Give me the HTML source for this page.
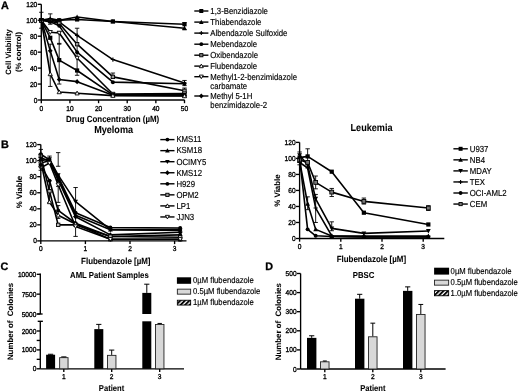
<!DOCTYPE html>
<html><head><meta charset="utf-8"><style>
html,body{margin:0;padding:0;background:#fff;width:520px;height:392px;overflow:hidden}
svg{display:block;will-change:transform}
text{text-rendering:geometricPrecision;font-family:"Liberation Sans",sans-serif;fill:#000;stroke:#000;stroke-width:0.14px}
text[font-weight=bold]{stroke-width:0.06px}
text.t{stroke-width:0.3px}
text.p{stroke-width:0.3px}
</style></head><body>
<svg width="520" height="392" viewBox="0 0 520 392">
<defs><pattern id="hatch" patternUnits="userSpaceOnUse" width="3.2" height="3.2" patternTransform="rotate(45)"><rect width="3.2" height="3.2" fill="#fff"/><rect width="1.9" height="3.2" fill="#000"/></pattern></defs>
<rect width="520" height="392" fill="#fff"/>
<g>
<text x="0" y="0" font-size="10.8" font-weight="bold" transform="translate(0.9 8.6) scale(1 1.0)" class="p">A</text>
<text x="0" y="0" font-size="10.8" font-weight="bold" transform="translate(1.1 148.3) scale(1 1.0)" class="p">B</text>
<text x="0" y="0" font-size="10.8" font-weight="bold" transform="translate(0.5 270.2) scale(1 1.0)" class="p">C</text>
<text x="0" y="0" font-size="10.8" font-weight="bold" transform="translate(265.2 269.5) scale(1 1.0)" class="p">D</text>
<line x1="41.3" y1="28.22" x2="41.3" y2="12.28" stroke="#000" stroke-width="0.9"/>
<line x1="39.1" y1="28.22" x2="43.5" y2="28.22" stroke="#000" stroke-width="0.9"/>
<line x1="39.1" y1="12.28" x2="43.5" y2="12.28" stroke="#000" stroke-width="0.9"/>
<line x1="50.25" y1="24.24" x2="50.25" y2="13.87" stroke="#000" stroke-width="0.9"/>
<line x1="48.05" y1="24.24" x2="52.45" y2="24.24" stroke="#000" stroke-width="0.9"/>
<line x1="48.05" y1="13.87" x2="52.45" y2="13.87" stroke="#000" stroke-width="0.9"/>
<line x1="50.25" y1="86.44" x2="50.25" y2="44.18" stroke="#000" stroke-width="0.9"/>
<line x1="48.05" y1="86.44" x2="52.45" y2="86.44" stroke="#000" stroke-width="0.9"/>
<line x1="48.05" y1="44.18" x2="52.45" y2="44.18" stroke="#000" stroke-width="0.9"/>
<line x1="59.2" y1="84.05" x2="59.2" y2="43.38" stroke="#000" stroke-width="0.9"/>
<line x1="57" y1="84.05" x2="61.4" y2="84.05" stroke="#000" stroke-width="0.9"/>
<line x1="57" y1="43.38" x2="61.4" y2="43.38" stroke="#000" stroke-width="0.9"/>
<line x1="59.2" y1="44.18" x2="59.2" y2="31.42" stroke="#000" stroke-width="0.9"/>
<line x1="57" y1="44.18" x2="61.4" y2="44.18" stroke="#000" stroke-width="0.9"/>
<line x1="57" y1="31.42" x2="61.4" y2="31.42" stroke="#000" stroke-width="0.9"/>
<line x1="77.1" y1="75.28" x2="77.1" y2="28.22" stroke="#000" stroke-width="0.9"/>
<line x1="74.9" y1="75.28" x2="79.3" y2="75.28" stroke="#000" stroke-width="0.9"/>
<line x1="74.9" y1="28.22" x2="79.3" y2="28.22" stroke="#000" stroke-width="0.9"/>
<line x1="112.9" y1="77.91" x2="112.9" y2="73.04" stroke="#000" stroke-width="0.9"/>
<line x1="110.7" y1="77.91" x2="115.1" y2="77.91" stroke="#000" stroke-width="0.9"/>
<line x1="110.7" y1="73.04" x2="115.1" y2="73.04" stroke="#000" stroke-width="0.9"/>
<line x1="184.5" y1="85.64" x2="184.5" y2="80.46" stroke="#000" stroke-width="0.9"/>
<line x1="182.3" y1="85.64" x2="186.7" y2="85.64" stroke="#000" stroke-width="0.9"/>
<line x1="182.3" y1="80.46" x2="186.7" y2="80.46" stroke="#000" stroke-width="0.9"/>
<line x1="184.5" y1="29.82" x2="184.5" y2="22.64" stroke="#000" stroke-width="0.9"/>
<line x1="182.3" y1="29.82" x2="186.7" y2="29.82" stroke="#000" stroke-width="0.9"/>
<line x1="182.3" y1="22.64" x2="186.7" y2="22.64" stroke="#000" stroke-width="0.9"/>
<line x1="184.5" y1="92.82" x2="184.5" y2="88.04" stroke="#000" stroke-width="0.9"/>
<line x1="182.3" y1="92.82" x2="186.7" y2="92.82" stroke="#000" stroke-width="0.9"/>
<line x1="182.3" y1="88.04" x2="186.7" y2="88.04" stroke="#000" stroke-width="0.9"/>
<polyline points="41.3,20.25 50.25,20.25 59.2,20.25 77.1,19.45 112.9,21.45 184.5,24.24" fill="none" stroke="#000" stroke-width="1.6" stroke-linejoin="round"/>
<polyline points="41.3,20.25 50.25,18.66 59.2,20.25 77.1,17.06 112.9,21.45 184.5,28.22" fill="none" stroke="#000" stroke-width="1.6" stroke-linejoin="round"/>
<polyline points="41.3,20.25 50.25,20.25 59.2,21.84 77.1,35.4 112.9,59.57 184.5,83.01" fill="none" stroke="#000" stroke-width="1.6" stroke-linejoin="round"/>
<polyline points="41.3,20.25 50.25,21.05 59.2,23.44 77.1,44.18 112.9,76.87 184.5,90.83" fill="none" stroke="#000" stroke-width="1.6" stroke-linejoin="round"/>
<polyline points="41.3,20.25 50.25,21.84 59.2,25.83 77.1,52.15 112.9,82.14 184.5,83.81" fill="none" stroke="#000" stroke-width="1.6" stroke-linejoin="round"/>
<polyline points="41.3,20.25 50.25,32.21 59.2,33.01 77.1,58.05 112.9,94.02 184.5,93.62" fill="none" stroke="#000" stroke-width="1.6" stroke-linejoin="round"/>
<polyline points="41.3,20.25 50.25,37.8 59.2,60.12 77.1,70.49 112.9,94.82 184.5,94.82" fill="none" stroke="#000" stroke-width="1.6" stroke-linejoin="round"/>
<polyline points="41.3,20.25 50.25,50.87 59.2,79.5 77.1,81.66 112.9,95.22 184.5,95.61" fill="none" stroke="#000" stroke-width="1.6" stroke-linejoin="round"/>
<polyline points="41.3,20.25 50.25,74 59.2,92.03 77.1,93.22 112.9,95.61 184.5,96.01" fill="none" stroke="#000" stroke-width="1.6" stroke-linejoin="round"/>
<rect x="39.2" y="18.15" width="4.2" height="4.2" fill="#000"/>
<rect x="48.15" y="18.15" width="4.2" height="4.2" fill="#000"/>
<rect x="57.1" y="18.15" width="4.2" height="4.2" fill="#000"/>
<rect x="75" y="17.35" width="4.2" height="4.2" fill="#000"/>
<rect x="110.8" y="19.35" width="4.2" height="4.2" fill="#000"/>
<rect x="182.4" y="22.14" width="4.2" height="4.2" fill="#000"/>
<path d="M41.3 17.75L43.7 22.15L38.9 22.15Z" fill="#000"/>
<path d="M50.25 16.16L52.65 20.56L47.85 20.56Z" fill="#000"/>
<path d="M59.2 17.75L61.6 22.15L56.8 22.15Z" fill="#000"/>
<path d="M77.1 14.56L79.5 18.96L74.7 18.96Z" fill="#000"/>
<path d="M112.9 18.95L115.3 23.35L110.5 23.35Z" fill="#000"/>
<path d="M184.5 25.72L186.9 30.12L182.1 30.12Z" fill="#000"/>
<path d="M39.2 20.25L43.4 20.25M41.3 18.15L41.3 22.35" stroke="#000" stroke-width="1.1"/>
<path d="M48.15 20.25L52.35 20.25M50.25 18.15L50.25 22.35" stroke="#000" stroke-width="1.1"/>
<path d="M57.1 21.84L61.3 21.84M59.2 19.74L59.2 23.95" stroke="#000" stroke-width="1.1"/>
<path d="M75 35.4L79.2 35.4M77.1 33.3L77.1 37.5" stroke="#000" stroke-width="1.1"/>
<path d="M110.8 59.57L115 59.57M112.9 57.47L112.9 61.67" stroke="#000" stroke-width="1.1"/>
<path d="M182.4 83.01L186.6 83.01M184.5 80.91L184.5 85.11" stroke="#000" stroke-width="1.1"/>
<rect x="39.6" y="18.55" width="3.4" height="3.4" fill="#999" stroke="#000" stroke-width="0.9"/>
<rect x="48.55" y="19.35" width="3.4" height="3.4" fill="#999" stroke="#000" stroke-width="0.9"/>
<rect x="57.5" y="21.74" width="3.4" height="3.4" fill="#999" stroke="#000" stroke-width="0.9"/>
<rect x="75.4" y="42.48" width="3.4" height="3.4" fill="#999" stroke="#000" stroke-width="0.9"/>
<rect x="111.2" y="75.17" width="3.4" height="3.4" fill="#999" stroke="#000" stroke-width="0.9"/>
<rect x="182.8" y="89.13" width="3.4" height="3.4" fill="#999" stroke="#000" stroke-width="0.9"/>
<circle cx="41.3" cy="20.25" r="1.99" fill="#000"/>
<circle cx="50.25" cy="21.84" r="1.99" fill="#000"/>
<circle cx="59.2" cy="25.83" r="1.99" fill="#000"/>
<circle cx="77.1" cy="52.15" r="1.99" fill="#000"/>
<circle cx="112.9" cy="82.14" r="1.99" fill="#000"/>
<circle cx="184.5" cy="83.81" r="1.99" fill="#000"/>
<path d="M41.3 22.35L43.4 18.55L39.2 18.55Z" fill="#fff" stroke="#000" stroke-width="0.9"/>
<path d="M50.25 34.31L52.35 30.51L48.15 30.51Z" fill="#fff" stroke="#000" stroke-width="0.9"/>
<path d="M59.2 35.11L61.3 31.31L57.1 31.31Z" fill="#fff" stroke="#000" stroke-width="0.9"/>
<path d="M77.1 60.15L79.2 56.35L75 56.35Z" fill="#fff" stroke="#000" stroke-width="0.9"/>
<path d="M112.9 96.12L115 92.32L110.8 92.32Z" fill="#fff" stroke="#000" stroke-width="0.9"/>
<path d="M184.5 95.72L186.6 91.92L182.4 91.92Z" fill="#fff" stroke="#000" stroke-width="0.9"/>
<rect x="39.2" y="18.15" width="4.2" height="4.2" fill="#000"/>
<rect x="48.15" y="35.7" width="4.2" height="4.2" fill="#000"/>
<rect x="57.1" y="58.02" width="4.2" height="4.2" fill="#000"/>
<rect x="75" y="68.39" width="4.2" height="4.2" fill="#000"/>
<rect x="110.8" y="92.72" width="4.2" height="4.2" fill="#000"/>
<rect x="182.4" y="92.72" width="4.2" height="4.2" fill="#000"/>
<path d="M41.3 17.65L43.7 20.25L41.3 22.85L38.9 20.25Z" fill="#000"/>
<path d="M50.25 48.27L52.65 50.87L50.25 53.47L47.85 50.87Z" fill="#000"/>
<path d="M59.2 76.9L61.6 79.5L59.2 82.1L56.8 79.5Z" fill="#000"/>
<path d="M77.1 79.06L79.5 81.66L77.1 84.26L74.7 81.66Z" fill="#000"/>
<path d="M112.9 92.62L115.3 95.22L112.9 97.81L110.5 95.22Z" fill="#000"/>
<path d="M184.5 93.01L186.9 95.61L184.5 98.21L182.1 95.61Z" fill="#000"/>
<path d="M41.3 18.15L43.4 21.95L39.2 21.95Z" fill="#fff" stroke="#000" stroke-width="0.9"/>
<path d="M50.25 71.9L52.35 75.7L48.15 75.7Z" fill="#fff" stroke="#000" stroke-width="0.9"/>
<path d="M59.2 89.93L61.3 93.72L57.1 93.72Z" fill="#fff" stroke="#000" stroke-width="0.9"/>
<path d="M77.1 91.12L79.2 94.92L75 94.92Z" fill="#fff" stroke="#000" stroke-width="0.9"/>
<path d="M112.9 93.51L115 97.31L110.8 97.31Z" fill="#fff" stroke="#000" stroke-width="0.9"/>
<path d="M184.5 93.91L186.6 97.71L182.4 97.71Z" fill="#fff" stroke="#000" stroke-width="0.9"/>
<line x1="41.3" y1="4.3" x2="41.3" y2="100" stroke="#000" stroke-width="1.35"/>
<line x1="37.7" y1="100" x2="41.3" y2="100" stroke="#000" stroke-width="1.35"/>
<text x="0" y="0" font-size="6.6" text-anchor="end" transform="translate(37.3 102.5) scale(1 1.08)" class="t">0</text>
<line x1="37.7" y1="84.05" x2="41.3" y2="84.05" stroke="#000" stroke-width="1.35"/>
<text x="0" y="0" font-size="6.6" text-anchor="end" transform="translate(37.3 86.55) scale(1 1.08)" class="t">20</text>
<line x1="37.7" y1="68.1" x2="41.3" y2="68.1" stroke="#000" stroke-width="1.35"/>
<text x="0" y="0" font-size="6.6" text-anchor="end" transform="translate(37.3 70.6) scale(1 1.08)" class="t">40</text>
<line x1="37.7" y1="52.15" x2="41.3" y2="52.15" stroke="#000" stroke-width="1.35"/>
<text x="0" y="0" font-size="6.6" text-anchor="end" transform="translate(37.3 54.65) scale(1 1.08)" class="t">60</text>
<line x1="37.7" y1="36.2" x2="41.3" y2="36.2" stroke="#000" stroke-width="1.35"/>
<text x="0" y="0" font-size="6.6" text-anchor="end" transform="translate(37.3 38.7) scale(1 1.08)" class="t">80</text>
<line x1="37.7" y1="20.25" x2="41.3" y2="20.25" stroke="#000" stroke-width="1.35"/>
<text x="0" y="0" font-size="6.6" text-anchor="end" transform="translate(37.3 22.75) scale(1 1.08)" class="t">100</text>
<line x1="37.7" y1="4.3" x2="41.3" y2="4.3" stroke="#000" stroke-width="1.35"/>
<text x="0" y="0" font-size="6.6" text-anchor="end" transform="translate(37.3 6.8) scale(1 1.08)" class="t">120</text>
<line x1="41.3" y1="100" x2="184.6" y2="100" stroke="#000" stroke-width="1.35"/>
<line x1="41.3" y1="100" x2="41.3" y2="103.2" stroke="#000" stroke-width="1.35"/>
<text x="0" y="0" font-size="6.6" text-anchor="middle" transform="translate(41.3 110.6) scale(1 1.08)" class="t">0</text>
<line x1="69.94" y1="100" x2="69.94" y2="103.2" stroke="#000" stroke-width="1.35"/>
<text x="0" y="0" font-size="6.6" text-anchor="middle" transform="translate(69.94 110.6) scale(1 1.08)" class="t">10</text>
<line x1="98.58" y1="100" x2="98.58" y2="103.2" stroke="#000" stroke-width="1.35"/>
<text x="0" y="0" font-size="6.6" text-anchor="middle" transform="translate(98.58 110.6) scale(1 1.08)" class="t">20</text>
<line x1="127.22" y1="100" x2="127.22" y2="103.2" stroke="#000" stroke-width="1.35"/>
<text x="0" y="0" font-size="6.6" text-anchor="middle" transform="translate(127.22 110.6) scale(1 1.08)" class="t">30</text>
<line x1="155.86" y1="100" x2="155.86" y2="103.2" stroke="#000" stroke-width="1.35"/>
<text x="0" y="0" font-size="6.6" text-anchor="middle" transform="translate(155.86 110.6) scale(1 1.08)" class="t">40</text>
<line x1="184.5" y1="100" x2="184.5" y2="103.2" stroke="#000" stroke-width="1.35"/>
<text x="0" y="0" font-size="6.6" text-anchor="middle" transform="translate(184.5 110.6) scale(1 1.08)" class="t">50</text>
<text x="0" y="0" font-size="7.95" font-weight="bold" text-anchor="middle" transform="translate(112.6 122.2) scale(1 1.12)">Drug Concentration (&#181;M)</text>
<text x="0" y="0" font-size="7.7" font-weight="bold" text-anchor="middle" transform="translate(11 52) rotate(-90) scale(1 1)">Cell Viability</text>
<text x="0" y="0" font-size="7.7" font-weight="bold" text-anchor="middle" transform="translate(20.5 52) rotate(-90) scale(1 1)">(% control)</text>
<line x1="194.3" y1="11" x2="208.4" y2="11" stroke="#000" stroke-width="1.4"/>
<rect x="199.3" y="9" width="4" height="4" fill="#000"/>
<text x="0" y="0" font-size="7.8" transform="translate(210.3 13.8) scale(1 1.12)">1,3-Benzidiazole</text>
<line x1="194.3" y1="22.1" x2="208.4" y2="22.1" stroke="#000" stroke-width="1.4"/>
<path d="M201.3 19.7L203.6 23.9L199 23.9Z" fill="#000"/>
<text x="0" y="0" font-size="7.8" transform="translate(210.3 24.9) scale(1 1.12)">Thiabendazole</text>
<line x1="194.3" y1="33.1" x2="208.4" y2="33.1" stroke="#000" stroke-width="1.4"/>
<path d="M199.3 33.1L203.3 33.1M201.3 31.1L201.3 35.1" stroke="#000" stroke-width="1.1"/>
<text x="0" y="0" font-size="7.8" transform="translate(210.3 35.9) scale(1 1.12)">Albendazole Sulfoxide</text>
<line x1="194.3" y1="44.2" x2="208.4" y2="44.2" stroke="#000" stroke-width="1.4"/>
<circle cx="201.3" cy="44.2" r="1.9" fill="#000"/>
<text x="0" y="0" font-size="7.8" transform="translate(210.3 47) scale(1 1.12)">Mebendazole</text>
<line x1="194.3" y1="55.2" x2="208.4" y2="55.2" stroke="#000" stroke-width="1.4"/>
<rect x="199.7" y="53.6" width="3.2" height="3.2" fill="#777" stroke="#000" stroke-width="0.9"/>
<text x="0" y="0" font-size="7.8" transform="translate(210.3 58) scale(1 1.12)">Oxibendazole</text>
<line x1="194.3" y1="66.1" x2="208.4" y2="66.1" stroke="#000" stroke-width="1.4"/>
<path d="M201.3 64.1L203.3 67.7L199.3 67.7Z" fill="#fff" stroke="#000" stroke-width="0.9"/>
<text x="0" y="0" font-size="7.8" transform="translate(210.3 68.9) scale(1 1.12)">Flubendazole</text>
<line x1="194.3" y1="76.7" x2="208.4" y2="76.7" stroke="#000" stroke-width="1.4"/>
<path d="M201.3 78.7L203.3 75.1L199.3 75.1Z" fill="#fff" stroke="#000" stroke-width="0.9"/>
<text x="0" y="0" font-size="7.8" transform="translate(210.3 79.5) scale(1 1.12)">Methyl1-2-benzimidazole</text>
<line x1="194.3" y1="96" x2="208.4" y2="96" stroke="#000" stroke-width="1.4"/>
<path d="M201.3 93.5L203.6 96L201.3 98.5L199 96Z" fill="#000"/>
<text x="0" y="0" font-size="7.8" transform="translate(210.3 98.8) scale(1 1.12)">Methyl 5-1H</text>
<text x="0" y="0" font-size="7.8" transform="translate(210.3 88.6) scale(1 1.12)">carbamate</text>
<text x="0" y="0" font-size="7.8" transform="translate(210.3 108.3) scale(1 1.12)">benzimidazole-2</text>
<text x="0" y="0" font-size="9.1" font-weight="bold" text-anchor="middle" transform="translate(113.6 132.6) scale(1 1.12)">Myeloma</text>
<line x1="40.8" y1="170.28" x2="40.8" y2="149.42" stroke="#000" stroke-width="0.9"/>
<line x1="38.6" y1="170.28" x2="43" y2="170.28" stroke="#000" stroke-width="0.9"/>
<line x1="38.6" y1="149.42" x2="43" y2="149.42" stroke="#000" stroke-width="0.9"/>
<line x1="40.8" y1="167.07" x2="40.8" y2="154.23" stroke="#000" stroke-width="0.9"/>
<line x1="38.6" y1="167.07" x2="43" y2="167.07" stroke="#000" stroke-width="0.9"/>
<line x1="38.6" y1="154.23" x2="43" y2="154.23" stroke="#000" stroke-width="0.9"/>
<line x1="49.5" y1="163.06" x2="49.5" y2="156.08" stroke="#000" stroke-width="0.9"/>
<line x1="47.3" y1="163.06" x2="51.7" y2="163.06" stroke="#000" stroke-width="0.9"/>
<line x1="47.3" y1="156.08" x2="51.7" y2="156.08" stroke="#000" stroke-width="0.9"/>
<line x1="58.19" y1="166.27" x2="58.19" y2="152.62" stroke="#000" stroke-width="0.9"/>
<line x1="55.99" y1="166.27" x2="60.39" y2="166.27" stroke="#000" stroke-width="0.9"/>
<line x1="55.99" y1="152.62" x2="60.39" y2="152.62" stroke="#000" stroke-width="0.9"/>
<line x1="75.59" y1="236.41" x2="75.59" y2="187.53" stroke="#000" stroke-width="0.9"/>
<line x1="73.39" y1="236.41" x2="77.79" y2="236.41" stroke="#000" stroke-width="0.9"/>
<line x1="73.39" y1="187.53" x2="77.79" y2="187.53" stroke="#000" stroke-width="0.9"/>
<line x1="49.5" y1="202.38" x2="49.5" y2="180.71" stroke="#000" stroke-width="0.9"/>
<line x1="47.3" y1="202.38" x2="51.7" y2="202.38" stroke="#000" stroke-width="0.9"/>
<line x1="47.3" y1="180.71" x2="51.7" y2="180.71" stroke="#000" stroke-width="0.9"/>
<line x1="58.19" y1="202.38" x2="58.19" y2="186.33" stroke="#000" stroke-width="0.9"/>
<line x1="55.99" y1="202.38" x2="60.39" y2="202.38" stroke="#000" stroke-width="0.9"/>
<line x1="55.99" y1="186.33" x2="60.39" y2="186.33" stroke="#000" stroke-width="0.9"/>
<line x1="58.19" y1="218.43" x2="58.19" y2="205.59" stroke="#000" stroke-width="0.9"/>
<line x1="55.99" y1="218.43" x2="60.39" y2="218.43" stroke="#000" stroke-width="0.9"/>
<line x1="55.99" y1="205.59" x2="60.39" y2="205.59" stroke="#000" stroke-width="0.9"/>
<polyline points="40.8,154.23 49.5,159.85 58.19,176.7 75.59,212.81 110.38,227.5 180.18,228.06" fill="none" stroke="#000" stroke-width="1.6" stroke-linejoin="round"/>
<polyline points="40.8,163.06 49.5,160.65 58.19,178.31 75.59,215.22 110.38,229.67 180.18,229.67" fill="none" stroke="#000" stroke-width="1.6" stroke-linejoin="round"/>
<polyline points="40.8,160.65 49.5,159.05 58.19,175.1 75.59,201.58 110.38,229.67 180.18,230.47" fill="none" stroke="#000" stroke-width="1.6" stroke-linejoin="round"/>
<polyline points="40.8,157.44 49.5,161.45 58.19,179.91 75.59,216.83 110.38,234.88 180.18,232.31" fill="none" stroke="#000" stroke-width="1.6" stroke-linejoin="round"/>
<polyline points="40.8,165.47 49.5,180.71 58.19,210.41 75.59,223.25 110.38,236.57 180.18,234.88" fill="none" stroke="#000" stroke-width="1.6" stroke-linejoin="round"/>
<polyline points="40.8,155.84 49.5,191.15 58.19,224.85 75.59,224.85 110.38,236.57 180.18,237.21" fill="none" stroke="#000" stroke-width="1.6" stroke-linejoin="round"/>
<polyline points="40.8,161.45 49.5,201.98 58.19,215.22 75.59,224.05 110.38,239.21 180.18,239.3" fill="none" stroke="#000" stroke-width="1.6" stroke-linejoin="round"/>
<polyline points="40.8,167.87 49.5,163.06 58.19,184.73 75.59,226.46 110.38,239.21 180.18,239.3" fill="none" stroke="#000" stroke-width="1.6" stroke-linejoin="round"/>
<circle cx="40.8" cy="154.23" r="1.99" fill="#000"/>
<circle cx="49.5" cy="159.85" r="1.99" fill="#000"/>
<circle cx="58.19" cy="176.7" r="1.99" fill="#000"/>
<circle cx="75.59" cy="212.81" r="1.99" fill="#000"/>
<circle cx="110.38" cy="227.5" r="1.99" fill="#000"/>
<circle cx="180.18" cy="228.06" r="1.99" fill="#000"/>
<path d="M40.8 160.56L43.2 164.96L38.4 164.96Z" fill="#000"/>
<path d="M49.5 158.15L51.9 162.55L47.1 162.55Z" fill="#000"/>
<path d="M58.19 175.81L60.59 180.21L55.79 180.21Z" fill="#000"/>
<path d="M75.59 212.72L77.99 217.12L73.19 217.12Z" fill="#000"/>
<path d="M110.38 227.17L112.78 231.57L107.98 231.57Z" fill="#000"/>
<path d="M180.18 227.17L182.58 231.57L177.78 231.57Z" fill="#000"/>
<path d="M40.8 163.15L43.2 158.75L38.4 158.75Z" fill="#000"/>
<path d="M49.5 161.55L51.9 157.15L47.1 157.15Z" fill="#000"/>
<path d="M58.19 177.6L60.59 173.2L55.79 173.2Z" fill="#000"/>
<path d="M75.59 204.08L77.99 199.68L73.19 199.68Z" fill="#000"/>
<path d="M110.38 232.17L112.78 227.77L107.98 227.77Z" fill="#000"/>
<path d="M180.18 232.97L182.58 228.57L177.78 228.57Z" fill="#000"/>
<path d="M40.8 154.84L43.2 157.44L40.8 160.04L38.4 157.44Z" fill="#000"/>
<path d="M49.5 158.85L51.9 161.45L49.5 164.05L47.1 161.45Z" fill="#000"/>
<path d="M58.19 177.31L60.59 179.91L58.19 182.51L55.79 179.91Z" fill="#000"/>
<path d="M75.59 214.23L77.99 216.83L75.59 219.43L73.19 216.83Z" fill="#000"/>
<path d="M110.38 232.28L112.78 234.88L110.38 237.48L107.98 234.88Z" fill="#000"/>
<path d="M180.18 229.71L182.58 232.31L180.18 234.91L177.78 232.31Z" fill="#000"/>
<circle cx="40.8" cy="165.47" r="1.99" fill="#000"/>
<circle cx="49.5" cy="180.71" r="1.99" fill="#000"/>
<circle cx="58.19" cy="210.41" r="1.99" fill="#000"/>
<circle cx="75.59" cy="223.25" r="1.99" fill="#000"/>
<circle cx="110.38" cy="236.57" r="1.99" fill="#000"/>
<circle cx="180.18" cy="234.88" r="1.99" fill="#000"/>
<rect x="39.1" y="154.14" width="3.4" height="3.4" fill="#bbb" stroke="#000" stroke-width="0.9"/>
<rect x="47.8" y="189.45" width="3.4" height="3.4" fill="#bbb" stroke="#000" stroke-width="0.9"/>
<rect x="56.49" y="223.15" width="3.4" height="3.4" fill="#bbb" stroke="#000" stroke-width="0.9"/>
<rect x="73.89" y="223.15" width="3.4" height="3.4" fill="#bbb" stroke="#000" stroke-width="0.9"/>
<rect x="108.68" y="234.87" width="3.4" height="3.4" fill="#bbb" stroke="#000" stroke-width="0.9"/>
<rect x="178.48" y="235.51" width="3.4" height="3.4" fill="#bbb" stroke="#000" stroke-width="0.9"/>
<path d="M40.8 159.35L42.9 163.15L38.7 163.15Z" fill="#fff" stroke="#000" stroke-width="0.9"/>
<path d="M49.5 199.88L51.6 203.68L47.4 203.68Z" fill="#fff" stroke="#000" stroke-width="0.9"/>
<path d="M58.19 213.12L60.29 216.92L56.09 216.92Z" fill="#fff" stroke="#000" stroke-width="0.9"/>
<path d="M75.59 221.95L77.69 225.75L73.49 225.75Z" fill="#fff" stroke="#000" stroke-width="0.9"/>
<path d="M110.38 237.11L112.48 240.91L108.28 240.91Z" fill="#fff" stroke="#000" stroke-width="0.9"/>
<path d="M180.18 237.2L182.28 241L178.08 241Z" fill="#fff" stroke="#000" stroke-width="0.9"/>
<path d="M40.8 169.97L42.9 166.17L38.7 166.17Z" fill="#fff" stroke="#000" stroke-width="0.9"/>
<path d="M49.5 165.16L51.6 161.36L47.4 161.36Z" fill="#fff" stroke="#000" stroke-width="0.9"/>
<path d="M58.19 186.83L60.29 183.03L56.09 183.03Z" fill="#fff" stroke="#000" stroke-width="0.9"/>
<path d="M75.59 228.56L77.69 224.76L73.49 224.76Z" fill="#fff" stroke="#000" stroke-width="0.9"/>
<path d="M110.38 241.31L112.48 237.51L108.28 237.51Z" fill="#fff" stroke="#000" stroke-width="0.9"/>
<path d="M180.18 241.4L182.28 237.6L178.08 237.6Z" fill="#fff" stroke="#000" stroke-width="0.9"/>
<line x1="40.8" y1="144.6" x2="40.8" y2="240.9" stroke="#000" stroke-width="1.35"/>
<line x1="37.2" y1="240.9" x2="40.8" y2="240.9" stroke="#000" stroke-width="1.35"/>
<text x="0" y="0" font-size="6.6" text-anchor="end" transform="translate(36.8 243.4) scale(1 1.08)" class="t">0</text>
<line x1="37.2" y1="224.85" x2="40.8" y2="224.85" stroke="#000" stroke-width="1.35"/>
<text x="0" y="0" font-size="6.6" text-anchor="end" transform="translate(36.8 227.35) scale(1 1.08)" class="t">20</text>
<line x1="37.2" y1="208.8" x2="40.8" y2="208.8" stroke="#000" stroke-width="1.35"/>
<text x="0" y="0" font-size="6.6" text-anchor="end" transform="translate(36.8 211.3) scale(1 1.08)" class="t">40</text>
<line x1="37.2" y1="192.75" x2="40.8" y2="192.75" stroke="#000" stroke-width="1.35"/>
<text x="0" y="0" font-size="6.6" text-anchor="end" transform="translate(36.8 195.25) scale(1 1.08)" class="t">60</text>
<line x1="37.2" y1="176.7" x2="40.8" y2="176.7" stroke="#000" stroke-width="1.35"/>
<text x="0" y="0" font-size="6.6" text-anchor="end" transform="translate(36.8 179.2) scale(1 1.08)" class="t">80</text>
<line x1="37.2" y1="160.65" x2="40.8" y2="160.65" stroke="#000" stroke-width="1.35"/>
<text x="0" y="0" font-size="6.6" text-anchor="end" transform="translate(36.8 163.15) scale(1 1.08)" class="t">100</text>
<line x1="37.2" y1="144.6" x2="40.8" y2="144.6" stroke="#000" stroke-width="1.35"/>
<text x="0" y="0" font-size="6.6" text-anchor="end" transform="translate(36.8 147.1) scale(1 1.08)" class="t">120</text>
<line x1="40.8" y1="240.9" x2="186.5" y2="240.9" stroke="#000" stroke-width="1.35"/>
<line x1="40.8" y1="240.9" x2="40.8" y2="244.1" stroke="#000" stroke-width="1.35"/>
<text x="0" y="0" font-size="6.6" text-anchor="middle" transform="translate(40.8 251.3) scale(1 1.08)" class="t">0</text>
<line x1="85.4" y1="240.9" x2="85.4" y2="244.1" stroke="#000" stroke-width="1.35"/>
<text x="0" y="0" font-size="6.6" text-anchor="middle" transform="translate(85.4 251.3) scale(1 1.08)" class="t">1</text>
<line x1="130" y1="240.9" x2="130" y2="244.1" stroke="#000" stroke-width="1.35"/>
<text x="0" y="0" font-size="6.6" text-anchor="middle" transform="translate(130 251.3) scale(1 1.08)" class="t">2</text>
<line x1="174.6" y1="240.9" x2="174.6" y2="244.1" stroke="#000" stroke-width="1.35"/>
<text x="0" y="0" font-size="6.6" text-anchor="middle" transform="translate(174.6 251.3) scale(1 1.08)" class="t">3</text>
<text x="0" y="0" font-size="7.95" font-weight="bold" text-anchor="middle" transform="translate(115.8 263.6) scale(1 1.12)">Flubendazole [&#181;M]</text>
<text x="0" y="0" font-size="7.9" font-weight="bold" text-anchor="middle" transform="translate(21.7 192) rotate(-90) scale(1 1)">% Viable</text>
<line x1="160.3" y1="139.6" x2="174.5" y2="139.6" stroke="#000" stroke-width="1.4"/>
<circle cx="167.4" cy="139.6" r="1.9" fill="#000"/>
<text x="0" y="0" font-size="7.8" transform="translate(176.4 142.4) scale(1 1.12)">KMS11</text>
<line x1="160.3" y1="150.65" x2="174.5" y2="150.65" stroke="#000" stroke-width="1.4"/>
<path d="M167.4 148.25L169.7 152.45L165.1 152.45Z" fill="#000"/>
<text x="0" y="0" font-size="7.8" transform="translate(176.4 153.45) scale(1 1.12)">KSM18</text>
<line x1="160.3" y1="161.7" x2="174.5" y2="161.7" stroke="#000" stroke-width="1.4"/>
<path d="M167.4 164.1L169.7 159.9L165.1 159.9Z" fill="#000"/>
<text x="0" y="0" font-size="7.8" transform="translate(176.4 164.5) scale(1 1.12)">OCIMY5</text>
<line x1="160.3" y1="172.75" x2="174.5" y2="172.75" stroke="#000" stroke-width="1.4"/>
<path d="M167.4 170.25L169.7 172.75L167.4 175.25L165.1 172.75Z" fill="#000"/>
<text x="0" y="0" font-size="7.8" transform="translate(176.4 175.55) scale(1 1.12)">KMS12</text>
<line x1="160.3" y1="183.8" x2="174.5" y2="183.8" stroke="#000" stroke-width="1.4"/>
<circle cx="167.4" cy="183.8" r="1.9" fill="#000"/>
<text x="0" y="0" font-size="7.8" transform="translate(176.4 186.6) scale(1 1.12)">H929</text>
<line x1="160.3" y1="194.85" x2="174.5" y2="194.85" stroke="#000" stroke-width="1.4"/>
<rect x="165.8" y="193.25" width="3.2" height="3.2" fill="#999" stroke="#000" stroke-width="0.9"/>
<text x="0" y="0" font-size="7.8" transform="translate(176.4 197.65) scale(1 1.12)">OPM2</text>
<line x1="160.3" y1="205.9" x2="174.5" y2="205.9" stroke="#000" stroke-width="1.4"/>
<path d="M167.4 203.9L169.4 207.5L165.4 207.5Z" fill="#fff" stroke="#000" stroke-width="0.9"/>
<text x="0" y="0" font-size="7.8" transform="translate(176.4 208.7) scale(1 1.12)">LP1</text>
<line x1="160.3" y1="216.95" x2="174.5" y2="216.95" stroke="#000" stroke-width="1.4"/>
<path d="M167.4 218.95L169.4 215.35L165.4 215.35Z" fill="#fff" stroke="#000" stroke-width="0.9"/>
<text x="0" y="0" font-size="7.8" transform="translate(176.4 219.75) scale(1 1.12)">JJN3</text>
<line x1="299.6" y1="164.81" x2="299.6" y2="151.99" stroke="#000" stroke-width="0.9"/>
<line x1="297.4" y1="164.81" x2="301.8" y2="164.81" stroke="#000" stroke-width="0.9"/>
<line x1="297.4" y1="151.99" x2="301.8" y2="151.99" stroke="#000" stroke-width="0.9"/>
<line x1="307.63" y1="164.81" x2="307.63" y2="148.79" stroke="#000" stroke-width="0.9"/>
<line x1="305.43" y1="164.81" x2="309.83" y2="164.81" stroke="#000" stroke-width="0.9"/>
<line x1="305.43" y1="148.79" x2="309.83" y2="148.79" stroke="#000" stroke-width="0.9"/>
<line x1="315.67" y1="188.84" x2="315.67" y2="176.02" stroke="#000" stroke-width="0.9"/>
<line x1="313.47" y1="188.84" x2="317.87" y2="188.84" stroke="#000" stroke-width="0.9"/>
<line x1="313.47" y1="176.02" x2="317.87" y2="176.02" stroke="#000" stroke-width="0.9"/>
<line x1="331.74" y1="196.53" x2="331.74" y2="188.44" stroke="#000" stroke-width="0.9"/>
<line x1="329.54" y1="196.53" x2="333.94" y2="196.53" stroke="#000" stroke-width="0.9"/>
<line x1="329.54" y1="188.44" x2="333.94" y2="188.44" stroke="#000" stroke-width="0.9"/>
<line x1="363.87" y1="204.06" x2="363.87" y2="198.05" stroke="#000" stroke-width="0.9"/>
<line x1="361.67" y1="204.06" x2="366.07" y2="204.06" stroke="#000" stroke-width="0.9"/>
<line x1="361.67" y1="198.05" x2="366.07" y2="198.05" stroke="#000" stroke-width="0.9"/>
<line x1="428.35" y1="210.47" x2="428.35" y2="205.66" stroke="#000" stroke-width="0.9"/>
<line x1="426.15" y1="210.47" x2="430.55" y2="210.47" stroke="#000" stroke-width="0.9"/>
<line x1="426.15" y1="205.66" x2="430.55" y2="205.66" stroke="#000" stroke-width="0.9"/>
<line x1="331.74" y1="230.73" x2="331.74" y2="221.84" stroke="#000" stroke-width="0.9"/>
<line x1="329.54" y1="230.73" x2="333.94" y2="230.73" stroke="#000" stroke-width="0.9"/>
<line x1="329.54" y1="221.84" x2="333.94" y2="221.84" stroke="#000" stroke-width="0.9"/>
<line x1="307.63" y1="209.66" x2="307.63" y2="196.85" stroke="#000" stroke-width="0.9"/>
<line x1="305.43" y1="209.66" x2="309.83" y2="209.66" stroke="#000" stroke-width="0.9"/>
<line x1="305.43" y1="196.85" x2="309.83" y2="196.85" stroke="#000" stroke-width="0.9"/>
<line x1="315.67" y1="222.48" x2="315.67" y2="194.44" stroke="#000" stroke-width="0.9"/>
<line x1="313.47" y1="222.48" x2="317.87" y2="222.48" stroke="#000" stroke-width="0.9"/>
<line x1="313.47" y1="194.44" x2="317.87" y2="194.44" stroke="#000" stroke-width="0.9"/>
<polyline points="299.6,157.6 307.63,156.4 331.74,171.7 363.87,212.71 428.35,224.48" fill="none" stroke="#000" stroke-width="1.6" stroke-linejoin="round"/>
<polyline points="299.6,160.8 307.63,203.82 315.67,229.37 331.74,236.1 363.87,236.9 428.35,236.9" fill="none" stroke="#000" stroke-width="1.6" stroke-linejoin="round"/>
<polyline points="299.6,155.2 307.63,164.81 315.67,198.77 331.74,228.41 363.87,233.37 428.35,230.97" fill="none" stroke="#000" stroke-width="1.6" stroke-linejoin="round"/>
<polyline points="299.6,162.41 307.63,168.01 315.67,208.06 331.74,235.78 363.87,236.1 428.35,236.1" fill="none" stroke="#000" stroke-width="1.6" stroke-linejoin="round"/>
<polyline points="299.6,158.4 307.63,229.37 315.67,235.78 331.74,236.5 363.87,236.9 428.35,236.9" fill="none" stroke="#000" stroke-width="1.6" stroke-linejoin="round"/>
<polyline points="299.6,160 307.63,162.41 315.67,182.43 331.74,192.12 363.87,201.41 428.35,208.06" fill="none" stroke="#000" stroke-width="1.6" stroke-linejoin="round"/>
<rect x="297.5" y="155.5" width="4.2" height="4.2" fill="#000"/>
<rect x="305.53" y="154.3" width="4.2" height="4.2" fill="#000"/>
<rect x="329.64" y="169.6" width="4.2" height="4.2" fill="#000"/>
<rect x="361.77" y="210.61" width="4.2" height="4.2" fill="#000"/>
<rect x="426.25" y="222.38" width="4.2" height="4.2" fill="#000"/>
<path d="M299.6 158.3L302 162.7L297.2 162.7Z" fill="#000"/>
<path d="M307.63 201.32L310.03 205.72L305.23 205.72Z" fill="#000"/>
<path d="M315.67 226.87L318.07 231.27L313.27 231.27Z" fill="#000"/>
<path d="M331.74 233.6L334.14 238L329.34 238Z" fill="#000"/>
<path d="M363.87 234.4L366.27 238.8L361.47 238.8Z" fill="#000"/>
<path d="M428.35 234.4L430.75 238.8L425.95 238.8Z" fill="#000"/>
<path d="M299.6 157.7L302 153.3L297.2 153.3Z" fill="#000"/>
<path d="M307.63 167.31L310.03 162.91L305.23 162.91Z" fill="#000"/>
<path d="M315.67 201.27L318.07 196.87L313.27 196.87Z" fill="#000"/>
<path d="M331.74 230.91L334.14 226.51L329.34 226.51Z" fill="#000"/>
<path d="M363.87 235.87L366.27 231.47L361.47 231.47Z" fill="#000"/>
<path d="M428.35 233.47L430.75 229.07L425.95 229.07Z" fill="#000"/>
<path d="M297.5 162.41L301.7 162.41M299.6 160.31L299.6 164.5" stroke="#000" stroke-width="1.1"/>
<path d="M305.53 168.01L309.73 168.01M307.63 165.91L307.63 170.11" stroke="#000" stroke-width="1.1"/>
<path d="M313.57 208.06L317.77 208.06M315.67 205.96L315.67 210.16" stroke="#000" stroke-width="1.1"/>
<path d="M329.64 235.78L333.84 235.78M331.74 233.68L331.74 237.88" stroke="#000" stroke-width="1.1"/>
<path d="M361.77 236.1L365.97 236.1M363.87 234L363.87 238.2" stroke="#000" stroke-width="1.1"/>
<path d="M426.25 236.1L430.45 236.1M428.35 234L428.35 238.2" stroke="#000" stroke-width="1.1"/>
<circle cx="299.6" cy="158.4" r="1.99" fill="#000"/>
<circle cx="307.63" cy="229.37" r="1.99" fill="#000"/>
<circle cx="315.67" cy="235.78" r="1.99" fill="#000"/>
<circle cx="331.74" cy="236.5" r="1.99" fill="#000"/>
<circle cx="363.87" cy="236.9" r="1.99" fill="#000"/>
<circle cx="428.35" cy="236.9" r="1.99" fill="#000"/>
<rect x="297.7" y="158.1" width="3.8" height="3.8" fill="#777" stroke="#000" stroke-width="0.9"/>
<rect x="305.73" y="160.5" width="3.8" height="3.8" fill="#777" stroke="#000" stroke-width="0.9"/>
<rect x="313.77" y="180.53" width="3.8" height="3.8" fill="#777" stroke="#000" stroke-width="0.9"/>
<rect x="329.84" y="190.22" width="3.8" height="3.8" fill="#777" stroke="#000" stroke-width="0.9"/>
<rect x="361.97" y="199.51" width="3.8" height="3.8" fill="#777" stroke="#000" stroke-width="0.9"/>
<rect x="426.45" y="206.16" width="3.8" height="3.8" fill="#777" stroke="#000" stroke-width="0.9"/>
<line x1="299.6" y1="142.38" x2="299.6" y2="238.5" stroke="#000" stroke-width="1.35"/>
<line x1="296" y1="238.5" x2="299.6" y2="238.5" stroke="#000" stroke-width="1.35"/>
<text x="0" y="0" font-size="6.6" text-anchor="end" transform="translate(295.6 241) scale(1 1.08)" class="t">0</text>
<line x1="296" y1="222.48" x2="299.6" y2="222.48" stroke="#000" stroke-width="1.35"/>
<text x="0" y="0" font-size="6.6" text-anchor="end" transform="translate(295.6 224.98) scale(1 1.08)" class="t">20</text>
<line x1="296" y1="206.46" x2="299.6" y2="206.46" stroke="#000" stroke-width="1.35"/>
<text x="0" y="0" font-size="6.6" text-anchor="end" transform="translate(295.6 208.96) scale(1 1.08)" class="t">40</text>
<line x1="296" y1="190.44" x2="299.6" y2="190.44" stroke="#000" stroke-width="1.35"/>
<text x="0" y="0" font-size="6.6" text-anchor="end" transform="translate(295.6 192.94) scale(1 1.08)" class="t">60</text>
<line x1="296" y1="174.42" x2="299.6" y2="174.42" stroke="#000" stroke-width="1.35"/>
<text x="0" y="0" font-size="6.6" text-anchor="end" transform="translate(295.6 176.92) scale(1 1.08)" class="t">80</text>
<line x1="296" y1="158.4" x2="299.6" y2="158.4" stroke="#000" stroke-width="1.35"/>
<text x="0" y="0" font-size="6.6" text-anchor="end" transform="translate(295.6 160.9) scale(1 1.08)" class="t">100</text>
<line x1="296" y1="142.38" x2="299.6" y2="142.38" stroke="#000" stroke-width="1.35"/>
<text x="0" y="0" font-size="6.6" text-anchor="end" transform="translate(295.6 144.88) scale(1 1.08)" class="t">120</text>
<line x1="299.6" y1="238.5" x2="444.3" y2="238.5" stroke="#000" stroke-width="1.35"/>
<line x1="299.6" y1="238.5" x2="299.6" y2="241.7" stroke="#000" stroke-width="1.35"/>
<text x="0" y="0" font-size="6.6" text-anchor="middle" transform="translate(299.6 249.2) scale(1 1.08)" class="t">0</text>
<line x1="340.8" y1="238.5" x2="340.8" y2="241.7" stroke="#000" stroke-width="1.35"/>
<text x="0" y="0" font-size="6.6" text-anchor="middle" transform="translate(340.8 249.2) scale(1 1.08)" class="t">1</text>
<line x1="382" y1="238.5" x2="382" y2="241.7" stroke="#000" stroke-width="1.35"/>
<text x="0" y="0" font-size="6.6" text-anchor="middle" transform="translate(382 249.2) scale(1 1.08)" class="t">2</text>
<line x1="423.2" y1="238.5" x2="423.2" y2="241.7" stroke="#000" stroke-width="1.35"/>
<text x="0" y="0" font-size="6.6" text-anchor="middle" transform="translate(423.2 249.2) scale(1 1.08)" class="t">3</text>
<text x="0" y="0" font-size="7.95" font-weight="bold" text-anchor="middle" transform="translate(371.4 261.6) scale(1 1.12)">Flubendazole [&#181;M]</text>
<text x="0" y="0" font-size="7.9" font-weight="bold" text-anchor="middle" transform="translate(279.8 190.5) rotate(-90) scale(1 1)">% Viable</text>
<text x="0" y="0" font-size="9.1" font-weight="bold" text-anchor="middle" transform="translate(371.5 130.8) scale(1 1.12)">Leukemia</text>
<line x1="453.4" y1="148.8" x2="467.8" y2="148.8" stroke="#000" stroke-width="1.4"/>
<rect x="458.6" y="146.8" width="4" height="4" fill="#000"/>
<text x="0" y="0" font-size="7.8" transform="translate(469.8 151.6) scale(1 1.12)">U937</text>
<line x1="453.4" y1="159.85" x2="467.8" y2="159.85" stroke="#000" stroke-width="1.4"/>
<path d="M460.6 157.45L462.9 161.65L458.3 161.65Z" fill="#000"/>
<text x="0" y="0" font-size="7.8" transform="translate(469.8 162.65) scale(1 1.12)">NB4</text>
<line x1="453.4" y1="170.9" x2="467.8" y2="170.9" stroke="#000" stroke-width="1.4"/>
<path d="M460.6 173.3L462.9 169.1L458.3 169.1Z" fill="#000"/>
<text x="0" y="0" font-size="7.8" transform="translate(469.8 173.7) scale(1 1.12)">MDAY</text>
<line x1="453.4" y1="181.95" x2="467.8" y2="181.95" stroke="#000" stroke-width="1.4"/>
<path d="M458.6 181.95L462.6 181.95M460.6 179.95L460.6 183.95" stroke="#000" stroke-width="1.1"/>
<text x="0" y="0" font-size="7.8" transform="translate(469.8 184.75) scale(1 1.12)">TEX</text>
<line x1="453.4" y1="193" x2="467.8" y2="193" stroke="#000" stroke-width="1.4"/>
<circle cx="460.6" cy="193" r="1.9" fill="#000"/>
<text x="0" y="0" font-size="7.8" transform="translate(469.8 195.8) scale(1 1.12)">OCI-AML2</text>
<line x1="453.4" y1="204.05" x2="467.8" y2="204.05" stroke="#000" stroke-width="1.4"/>
<rect x="459" y="202.45" width="3.2" height="3.2" fill="#777" stroke="#000" stroke-width="0.9"/>
<text x="0" y="0" font-size="7.8" transform="translate(469.8 206.85) scale(1 1.12)">CEM</text>
<line x1="40.3" y1="273.4" x2="40.3" y2="314" stroke="#000" stroke-width="1.35"/>
<line x1="37.3" y1="314" x2="42.6" y2="314" stroke="#000" stroke-width="1.35"/>
<line x1="40.3" y1="321.3" x2="40.3" y2="368.8" stroke="#000" stroke-width="1.35"/>
<line x1="37.7" y1="321.3" x2="42.9" y2="321.3" stroke="#000" stroke-width="1.35"/>
<line x1="36.7" y1="314" x2="40.3" y2="314" stroke="#000" stroke-width="1.35"/>
<text x="0" y="0" font-size="6.6" text-anchor="end" transform="translate(36.3 316.5) scale(1 1.08)" class="t">5000</text>
<line x1="36.7" y1="294.15" x2="40.3" y2="294.15" stroke="#000" stroke-width="1.35"/>
<text x="0" y="0" font-size="6.6" text-anchor="end" transform="translate(36.3 296.65) scale(1 1.08)" class="t">7500</text>
<line x1="36.7" y1="274.3" x2="40.3" y2="274.3" stroke="#000" stroke-width="1.35"/>
<text x="0" y="0" font-size="6.6" text-anchor="end" transform="translate(36.3 276.8) scale(1 1.08)" class="t">10000</text>
<line x1="36.7" y1="368.8" x2="40.3" y2="368.8" stroke="#000" stroke-width="1.35"/>
<text x="0" y="0" font-size="6.6" text-anchor="end" transform="translate(36.3 371.3) scale(1 1.08)" class="t">0</text>
<line x1="36.7" y1="349.9" x2="40.3" y2="349.9" stroke="#000" stroke-width="1.35"/>
<text x="0" y="0" font-size="6.6" text-anchor="end" transform="translate(36.3 352.4) scale(1 1.08)" class="t">1000</text>
<line x1="36.7" y1="331" x2="40.3" y2="331" stroke="#000" stroke-width="1.35"/>
<text x="0" y="0" font-size="6.6" text-anchor="end" transform="translate(36.3 333.5) scale(1 1.08)" class="t">2000</text>
<line x1="36.7" y1="359.35" x2="40.3" y2="359.35" stroke="#000" stroke-width="1.35"/>
<line x1="36.7" y1="340.45" x2="40.3" y2="340.45" stroke="#000" stroke-width="1.35"/>
<line x1="40.3" y1="368.8" x2="184" y2="368.8" stroke="#000" stroke-width="1.35"/>
<line x1="63.8" y1="368.8" x2="63.8" y2="372" stroke="#000" stroke-width="1.35"/>
<text x="0" y="0" font-size="6.6" text-anchor="middle" transform="translate(63.8 378.9) scale(1 1.08)" class="t">1</text>
<line x1="111.7" y1="368.8" x2="111.7" y2="372" stroke="#000" stroke-width="1.35"/>
<text x="0" y="0" font-size="6.6" text-anchor="middle" transform="translate(111.7 378.9) scale(1 1.08)" class="t">2</text>
<line x1="159.7" y1="368.8" x2="159.7" y2="372" stroke="#000" stroke-width="1.35"/>
<text x="0" y="0" font-size="6.6" text-anchor="middle" transform="translate(159.7 378.9) scale(1 1.08)" class="t">3</text>
<rect x="46.1" y="354.72" width="9" height="14.08" fill="#000"/>
<rect x="59.65" y="357.65" width="8.4" height="11.15" fill="#d8d8d8" stroke="#222" stroke-width="0.9"/>
<line x1="50.6" y1="354.72" x2="50.6" y2="354.25" stroke="#000" stroke-width="1"/>
<line x1="48" y1="354.25" x2="53.2" y2="354.25" stroke="#000" stroke-width="1"/>
<line x1="63.85" y1="357.2" x2="63.85" y2="356.89" stroke="#000" stroke-width="1"/>
<line x1="61.25" y1="356.89" x2="66.45" y2="356.89" stroke="#000" stroke-width="1"/>
<rect x="94.3" y="329.11" width="9" height="39.69" fill="#000"/>
<line x1="98.8" y1="329.11" x2="98.8" y2="324.38" stroke="#000" stroke-width="1"/>
<line x1="96.2" y1="324.38" x2="101.4" y2="324.38" stroke="#000" stroke-width="1"/>
<rect x="107.45" y="355.36" width="8.5" height="13.44" fill="#d8d8d8" stroke="#222" stroke-width="0.9"/>
<line x1="111.7" y1="354.91" x2="111.7" y2="350.09" stroke="#000" stroke-width="1"/>
<line x1="109.1" y1="350.09" x2="114.3" y2="350.09" stroke="#000" stroke-width="1"/>
<rect x="142.3" y="321.3" width="9" height="47.5" fill="#000"/>
<rect x="142.3" y="292.9" width="9" height="21.1" fill="#000"/>
<line x1="146.8" y1="292.9" x2="146.8" y2="284.2" stroke="#000" stroke-width="1"/>
<line x1="144.2" y1="284.2" x2="149.4" y2="284.2" stroke="#000" stroke-width="1"/>
<rect x="155.45" y="324.46" width="8.5" height="44.34" fill="#d8d8d8" stroke="#222" stroke-width="0.9"/>
<line x1="159.7" y1="324.01" x2="159.7" y2="323.44" stroke="#000" stroke-width="1"/>
<line x1="157.5" y1="323.44" x2="161.9" y2="323.44" stroke="#000" stroke-width="1"/>
<text x="0" y="0" font-size="7.75" font-weight="bold" text-anchor="middle" transform="translate(109.4 278.2) scale(1 1.12)">AML Patient Samples</text>
<text x="0" y="0" font-size="7.6" font-weight="bold" text-anchor="middle" transform="translate(111.5 391.2) scale(1 1.12)">Patient</text>
<text x="0" y="0" font-size="7.9" font-weight="bold" text-anchor="middle" transform="translate(12.9 321.5) rotate(-90) scale(1 1)">Number of&#160; Colonies</text>
<rect x="176.9" y="277.3" width="14.2" height="6.5" fill="#000"/>
<rect x="177.35" y="289.15" width="13.3" height="5" fill="#d8d8d8" stroke="#222" stroke-width="0.9"/>
<rect x="177.35" y="300.25" width="13.3" height="4.8" fill="url(#hatch)" stroke="#000" stroke-width="0.9"/>
<text x="0" y="0" font-size="7.7" transform="translate(193 283.35) scale(1 1.12)">0&#181;M flubendazole</text>
<text x="0" y="0" font-size="7.7" transform="translate(193 294.45) scale(1 1.12)">0.5&#181;M flubendazole</text>
<text x="0" y="0" font-size="7.7" transform="translate(193 305.45) scale(1 1.12)">1&#181;M flubendazole</text>
<text x="0" y="0" font-size="7.7" transform="translate(114.6 263.6) scale(1 1.12)"></text>
<line x1="300.6" y1="273.5" x2="300.6" y2="369" stroke="#000" stroke-width="1.35"/>
<line x1="297" y1="369" x2="300.6" y2="369" stroke="#000" stroke-width="1.35"/>
<text x="0" y="0" font-size="6.6" text-anchor="end" transform="translate(296.6 371.5) scale(1 1.08)" class="t">0</text>
<line x1="297" y1="349.9" x2="300.6" y2="349.9" stroke="#000" stroke-width="1.35"/>
<text x="0" y="0" font-size="6.6" text-anchor="end" transform="translate(296.6 352.4) scale(1 1.08)" class="t">100</text>
<line x1="297" y1="330.8" x2="300.6" y2="330.8" stroke="#000" stroke-width="1.35"/>
<text x="0" y="0" font-size="6.6" text-anchor="end" transform="translate(296.6 333.3) scale(1 1.08)" class="t">200</text>
<line x1="297" y1="311.7" x2="300.6" y2="311.7" stroke="#000" stroke-width="1.35"/>
<text x="0" y="0" font-size="6.6" text-anchor="end" transform="translate(296.6 314.2) scale(1 1.08)" class="t">300</text>
<line x1="297" y1="292.6" x2="300.6" y2="292.6" stroke="#000" stroke-width="1.35"/>
<text x="0" y="0" font-size="6.6" text-anchor="end" transform="translate(296.6 295.1) scale(1 1.08)" class="t">400</text>
<line x1="297" y1="273.5" x2="300.6" y2="273.5" stroke="#000" stroke-width="1.35"/>
<text x="0" y="0" font-size="6.6" text-anchor="end" transform="translate(296.6 276) scale(1 1.08)" class="t">500</text>
<line x1="300.6" y1="369" x2="445.6" y2="369" stroke="#000" stroke-width="1.35"/>
<line x1="324.8" y1="369" x2="324.8" y2="372.2" stroke="#000" stroke-width="1.35"/>
<text x="0" y="0" font-size="6.6" text-anchor="middle" transform="translate(324.8 378.9) scale(1 1.08)" class="t">1</text>
<line x1="372.8" y1="369" x2="372.8" y2="372.2" stroke="#000" stroke-width="1.35"/>
<text x="0" y="0" font-size="6.6" text-anchor="middle" transform="translate(372.8 378.9) scale(1 1.08)" class="t">2</text>
<line x1="420.8" y1="369" x2="420.8" y2="372.2" stroke="#000" stroke-width="1.35"/>
<text x="0" y="0" font-size="6.6" text-anchor="middle" transform="translate(420.8 378.9) scale(1 1.08)" class="t">3</text>
<rect x="307" y="337.87" width="9.4" height="31.13" fill="#000"/>
<line x1="311.7" y1="337.87" x2="311.7" y2="335.77" stroke="#000" stroke-width="1"/>
<line x1="309.1" y1="335.77" x2="314.3" y2="335.77" stroke="#000" stroke-width="1"/>
<rect x="320.55" y="361.81" width="8.5" height="7.19" fill="#d8d8d8" stroke="#222" stroke-width="0.9"/>
<line x1="324.8" y1="361.36" x2="324.8" y2="360.98" stroke="#000" stroke-width="1"/>
<line x1="322.8" y1="360.98" x2="326.8" y2="360.98" stroke="#000" stroke-width="1"/>
<rect x="355" y="298.71" width="9.4" height="70.29" fill="#000"/>
<line x1="359.7" y1="298.71" x2="359.7" y2="294.32" stroke="#000" stroke-width="1"/>
<line x1="357.1" y1="294.32" x2="362.3" y2="294.32" stroke="#000" stroke-width="1"/>
<rect x="368.55" y="336.79" width="8.5" height="32.21" fill="#d8d8d8" stroke="#222" stroke-width="0.9"/>
<line x1="372.8" y1="336.34" x2="372.8" y2="323.16" stroke="#000" stroke-width="1"/>
<line x1="370.4" y1="323.16" x2="375.2" y2="323.16" stroke="#000" stroke-width="1"/>
<rect x="403" y="290.88" width="9.4" height="78.12" fill="#000"/>
<line x1="407.7" y1="290.88" x2="407.7" y2="286.87" stroke="#000" stroke-width="1"/>
<line x1="405.1" y1="286.87" x2="410.3" y2="286.87" stroke="#000" stroke-width="1"/>
<rect x="416.55" y="314.44" width="8.5" height="54.56" fill="#d8d8d8" stroke="#222" stroke-width="0.9"/>
<line x1="420.8" y1="313.99" x2="420.8" y2="304.44" stroke="#000" stroke-width="1"/>
<line x1="418.4" y1="304.44" x2="423.2" y2="304.44" stroke="#000" stroke-width="1"/>
<text x="0" y="0" font-size="7.75" font-weight="bold" text-anchor="middle" transform="translate(363.6 278) scale(1 1.12)">PBSC</text>
<text x="0" y="0" font-size="7.6" font-weight="bold" text-anchor="middle" transform="translate(372.8 391.2) scale(1 1.12)">Patient</text>
<text x="0" y="0" font-size="7.9" font-weight="bold" text-anchor="middle" transform="translate(281 321.7) rotate(-90) scale(1 1)">Number of&#160; Colonies</text>
<rect x="434.1" y="267.7" width="15" height="6.9" fill="#000"/>
<rect x="434.55" y="280.15" width="14.1" height="5" fill="#d8d8d8" stroke="#222" stroke-width="0.9"/>
<rect x="434.55" y="290.65" width="14.1" height="5.1" fill="url(#hatch)" stroke="#000" stroke-width="0.9"/>
<text x="0" y="0" font-size="7.7" transform="translate(450.6 273.95) scale(1 1.12)">0&#181;M flubendazole</text>
<text x="0" y="0" font-size="7.7" transform="translate(450.6 285.45) scale(1 1.12)">0.5&#181;M flubendazole</text>
<text x="0" y="0" font-size="7.7" transform="translate(450.6 296) scale(1 1.12)">1.0&#181;M flubendazole</text>
</g>
</svg>
</body></html>
